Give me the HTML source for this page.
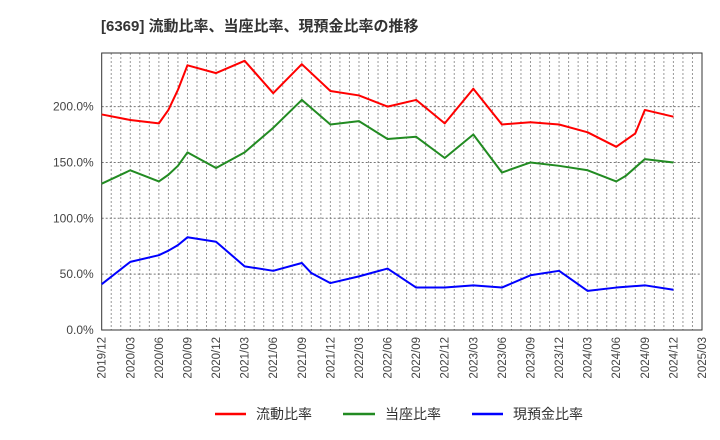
<!DOCTYPE html>
<html><head><meta charset="utf-8"><style>
body{margin:0;background:#fff;}
svg{display:block;font-family:"Liberation Sans","Noto Sans CJK JP",sans-serif;}
</style></head><body>
<svg id="chart" width="720" height="440" viewBox="0 0 720 440" xmlns="http://www.w3.org/2000/svg">
<text x="101" y="31" font-size="15" font-weight="bold" fill="#333">[6369]  流動比率、当座比率、現預金比率の推移</text>
<g id="grid"></g><g id="axes"></g><g id="series"></g>
<g font-size="14" fill="#333">
<g><line x1="215" y1="414" x2="246" y2="414" stroke="#ff0000" stroke-width="2.5"/><text x="256" y="419">流動比率</text></g>
<g><line x1="343" y1="414" x2="375" y2="414" stroke="#228b22" stroke-width="2.5"/><text x="385" y="419">当座比率</text></g>
<g><line x1="472" y1="414" x2="503" y2="414" stroke="#0000ff" stroke-width="2.5"/><text x="513" y="419">現預金比率</text></g>
</g>
</svg>
<script>
const tickLabels=["2019/12","2020/03","2020/06","2020/09","2020/12","2021/03","2021/06","2021/09","2021/12","2022/03","2022/06","2022/09","2022/12","2023/03","2023/06","2023/09","2023/12","2024/03","2024/06","2024/09","2024/12","2025/03"];
const yTicks=[0,50,100,150,200];
const redMonths=[0,3,6,7,8,9,12,15,18,21,24,27,30,33,36,39,42,45,48,51,54,56,57,60];
const redValues=[193,188,185,197,215,237,230,241,212,238,214,210,200,206,185,216,184,186,184,177,164,176,197,191];
const greenMonths=[0,3,6,7,8,9,12,15,18,21,24,27,30,33,36,39,42,45,48,51,54,55,57,60];
const greenValues=[131,143,133,139,147,159,145,159,181,206,184,187,171,173,154,175,141,150,147,143,133,138,153,150];
const blueMonths=[0,3,6,7,8,9,12,15,18,21,22,24,27,30,33,36,39,42,45,48,51,54,57,60];
const blueValues=[41,61,67,71,76,83,79,57,53,60,51,42,48,55,38,38,40,38,49,53,35,38,40,36];
const L=101.7,R=702,T=53,B=330,NM=63,YMAX=248;
const xS=m=>L+(R-L)*m/NM;
const yS=v=>B-(B-T)*v/YMAX;
const NS="http://www.w3.org/2000/svg";
function mk(tag,attrs,parent){const e=document.createElementNS(NS,tag);for(const k in attrs)e.setAttribute(k,attrs[k]);parent.appendChild(e);return e;}
const grid=document.getElementById('grid'),axes=document.getElementById('axes'),series=document.getElementById('series');
for(let m=1;m<NM;m++){const l=mk('line',{x1:xS(m),x2:xS(m),y1:T,y2:B,stroke:'#999','stroke-width':1,'stroke-dasharray':'2,2'},grid);

}
yTicks.forEach(v=>{if(v>0){const l=mk('line',{x1:L,x2:R,y1:yS(v),y2:yS(v),stroke:'#777','stroke-width':1,'stroke-dasharray':'2,2'},grid);

}
const t=mk('text',{x:L-8,y:yS(v)+4,'text-anchor':'end','font-size':12,fill:'#444'},axes);t.textContent=v.toFixed(1)+'%';

});
const fr=mk('rect',{x:L,y:T,width:R-L,height:B-T,fill:'none',stroke:'#333','stroke-width':1},axes);


tickLabels.forEach((s,i)=>{const x=xS(i*3);const t=mk('text',{transform:`translate(${x+4},337) rotate(-90)`,'text-anchor':'end','font-size':11.5,fill:'#444'},axes);t.textContent=s;

});
function line(ms,vs,color,name){const p=mk('polyline',{points:ms.map((m,i)=>xS(m)+','+yS(vs[i])).join(' '),fill:'none',stroke:color,'stroke-width':2,'stroke-linejoin':'round'},series);

}
line(redMonths,redValues,'#ff0000','current-ratio-line');
line(greenMonths,greenValues,'#228b22','quick-ratio-line');
line(blueMonths,blueValues,'#0000ff','cash-ratio-line');
</script>
</body></html>
